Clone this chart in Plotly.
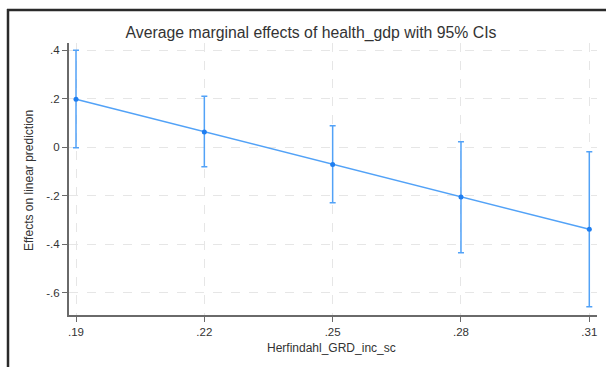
import plotly.graph_objects as go

# Data
x_vals = [0.19, 0.22, 0.25, 0.28, 0.31]
effects = [0.198, 0.063, -0.071, -0.206, -0.339]
ci_low = [-0.002, -0.081, -0.229, -0.436, -0.658]
ci_high = [0.400, 0.210, 0.089, 0.022, -0.019]
x_tick_vals = [0.19, 0.22, 0.25, 0.28, 0.31]
x_tick_text = [".19", ".22", ".25", ".28", ".31"]
y_tick_vals = [0.4, 0.2, 0.0, -0.2, -0.4, -0.6]
y_tick_text = [".4", ".2", "0", "-.2", "-.4", "-.6"]

W, H = 606, 367
L, R, T, B = 69, 9, 43, 52

blue = "#52a2f7"
font = "Liberation Sans, Arial, sans-serif"

fig = go.Figure()
fig.add_trace(go.Scatter(
    x=x_vals, y=effects, mode="lines+markers",
    line=dict(color=blue, width=1.5),
    marker=dict(color="#1f7ef0", size=5),
    error_y=dict(type="data", symmetric=False,
                 array=[h - e for h, e in zip(ci_high, effects)],
                 arrayminus=[e - l for e, l in zip(effects, ci_low)],
                 color=blue, thickness=1.5, width=3),
    showlegend=False, cliponaxis=False,
))

grid = dict(showgrid=True, gridcolor="#e6e6e6", griddash="dash", gridwidth=1)

def px_x(p):
    return (p - L) / (W - L - R)

def px_y(p):
    return 1 - (p - T) / (H - T - B)

fig.update_layout(
    width=W, height=H,
    margin=dict(l=L, r=R, t=T, b=B, autoexpand=False),
    paper_bgcolor="white", plot_bgcolor="white",
    font=dict(family=font, color="#333333", size=11),
    title=dict(text="Average marginal effects of health_gdp with 95% CIs",
               x=311 / W, xanchor="center", y=1 - 32 / H, yanchor="middle",
               font=dict(size=15.8, color="#333333", family=font)),
    xaxis=dict(range=[0.18836, 0.3118], tickvals=x_tick_vals, ticktext=x_tick_text,
               showline=True, linecolor="#6a6a6a", linewidth=2,
               ticks="outside", ticklen=5, tickcolor="#6a6a6a", tickwidth=1,
               zeroline=False, automargin=False,
               tickfont=dict(size=11.5), **grid),
    yaxis=dict(range=[-0.6925, 0.43], tickvals=y_tick_vals, ticktext=y_tick_text,
               showline=True, linecolor="#6a6a6a", linewidth=2,
               ticks="outside", ticklen=5, tickcolor="#6a6a6a", tickwidth=1,
               zeroline=False, automargin=False,
               tickfont=dict(size=11.5), **grid),
    annotations=[
        dict(text="Herfindahl_GRD_inc_sc", xref="paper", yref="paper",
             x=px_x(331), y=px_y(348), xanchor="center", yanchor="middle",
             showarrow=False, font=dict(size=12, color="#333333")),
        dict(text="Effects on linear prediction", xref="paper", yref="paper",
             x=px_x(29), y=px_y(181), xanchor="center", yanchor="middle",
             textangle=-90, showarrow=False, font=dict(size=12, color="#333333")),
    ],
)

# outer frame (left and top edges visible in the reference)
fig.add_shape(type="line", xref="paper", yref="paper",
              x0=px_x(8), x1=px_x(8), y0=px_y(9), y1=px_y(H + 5),
              line=dict(color="#2a2a2a", width=2.5))
fig.add_shape(type="line", xref="paper", yref="paper",
              x0=px_x(7), x1=px_x(W + 5), y0=px_y(10), y1=px_y(10),
              line=dict(color="#2a2a2a", width=2.5))

fig.write_html("out.html", config={"displayModeBar": False},
               post_script="document.body.style.margin='0';document.body.style.overflow='hidden';")
